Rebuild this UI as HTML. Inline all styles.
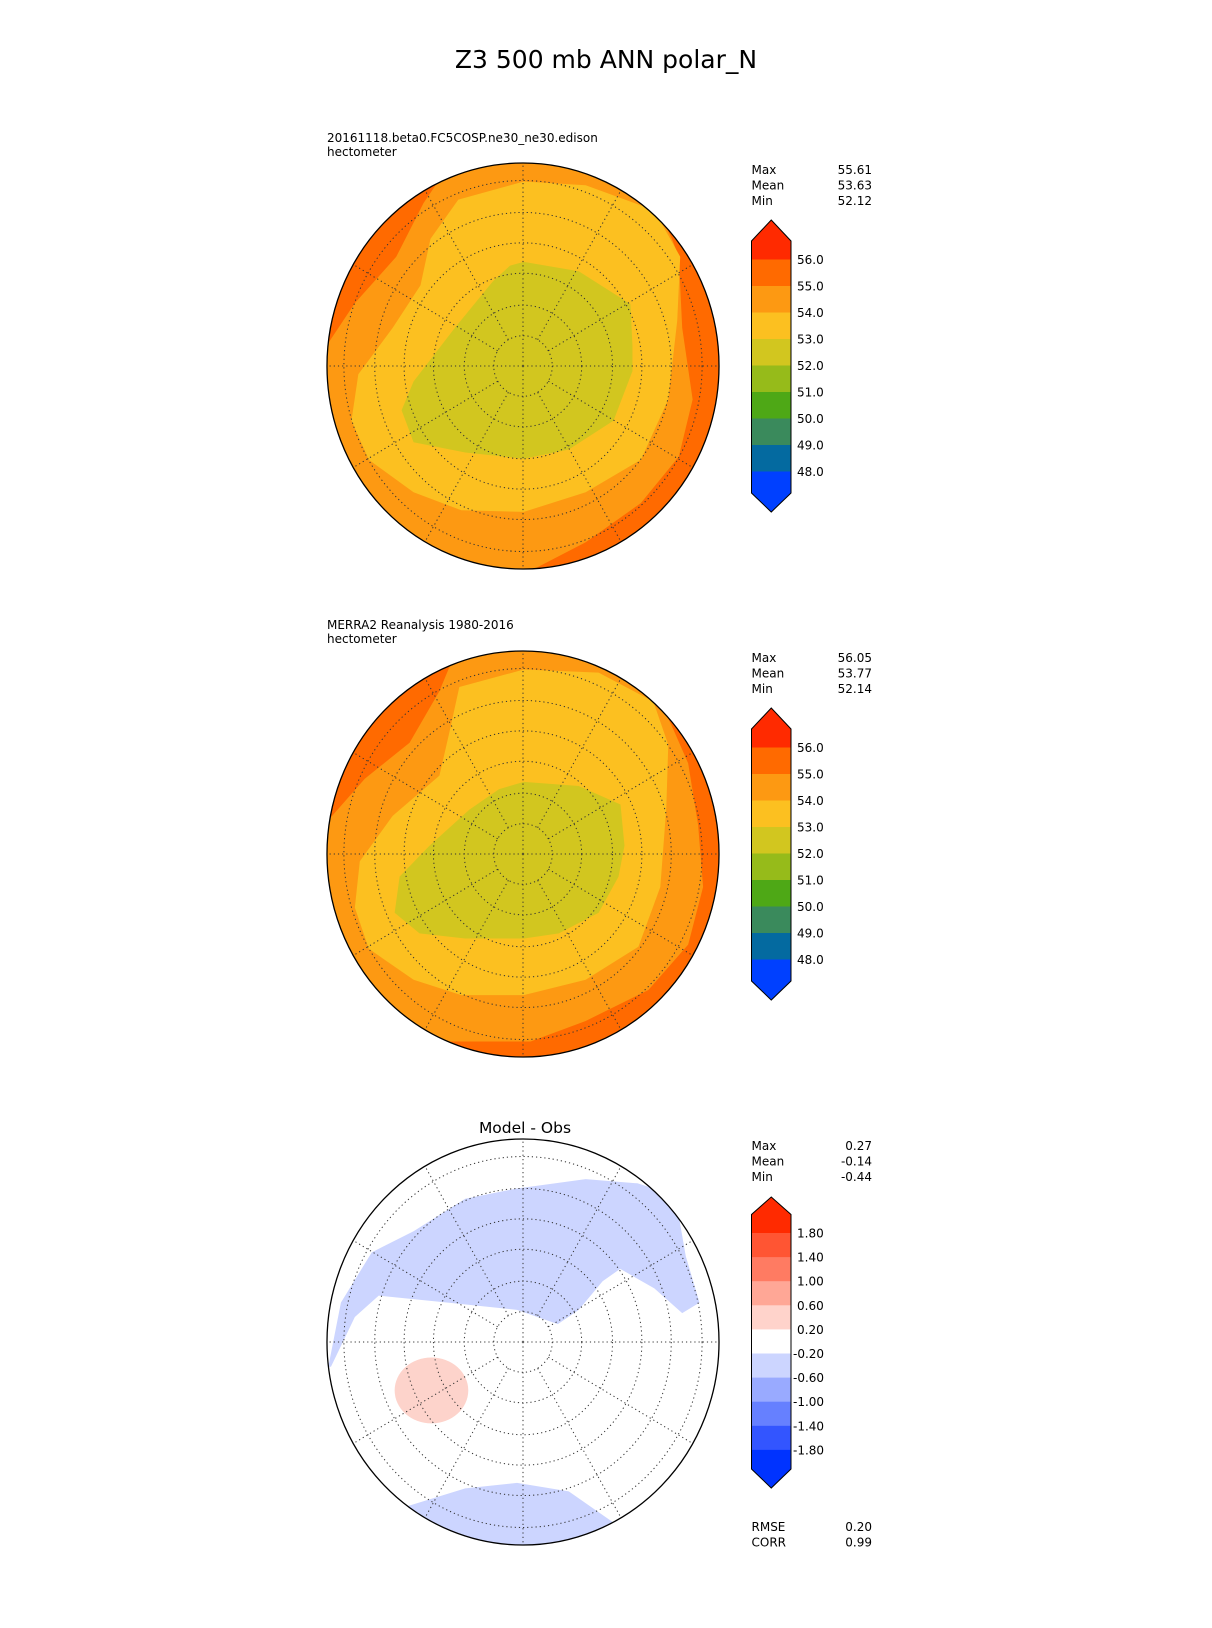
<!DOCTYPE html>
<html><head><meta charset="utf-8"><style>
body{margin:0;background:#fff;}
svg{display:block;font-family:"DejaVu Sans","Liberation Sans",sans-serif;}
</style></head><body>
<svg id="fig" width="1212" height="1628" viewBox="0 0 1212 1628">
<defs>
<clipPath id="c1"><circle cx="524" cy="360" r="197"/></clipPath>
<clipPath id="c2"><circle cx="524" cy="848" r="197"/></clipPath>
<clipPath id="c3"><circle cx="524" cy="1336" r="197"/></clipPath>
</defs>
<text x="606" y="68" font-size="25" text-anchor="middle">Z3 500 mb ANN polar_N</text>

<!-- Panel 1 -->
<g>
<text x="327" y="142" font-size="12">20161118.beta0.FC5COSP.ne30_ne30.edison</text>
<text x="327" y="156" font-size="12">hectometer</text>
<g transform="translate(523,366) scale(0.995,1.0305) translate(-524,-360)">
<g clip-path="url(#c1)">
<rect x="320" y="150" width="410" height="420" fill="#ff6a00"/>
<polygon fill="#fd9912" points="292.7,392.5 324,344 355,299 396.6,254 424,202 448.5,167 518,132.7 621.7,132.7 673.7,236.6 680.6,254 684,323 694.5,392.5 680.6,448 642.5,493 587,531 531.7,558.7 448.5,555 400,545 292.7,496"/>
<polygon fill="#fcc020" points="459,198.5 524.8,181 587,184.6 656,209 682,254 679,316 670,392.5 642.5,451 587,482.5 524.8,501.6 462,500 414,482.5 369,451 351.6,413 358.5,368 393,323 421,281.6 431,236.6"/>
<polygon fill="#d2c61f" points="524.8,259 580,268 632,300 634,340 634,365 615,413 570,441 525,450 466,444 414,434 402,403 414,375 455.5,323 493.6,278 511,262.6"/>
<g class="grid" data-cx="524" data-cy="360"></g>
</g>
<circle cx="524" cy="360" r="197" fill="none" stroke="#000" stroke-width="1.3" vector-effect="non-scaling-stroke"/>
</g>
</g>

<!-- Panel 2 -->
<g>
<text x="327" y="629" font-size="12">MERRA2 Reanalysis 1980-2016</text>
<text x="327" y="643" font-size="12">hectometer</text>
<g transform="translate(523,854) scale(0.995,1.0305) translate(-524,-848)">
<g clip-path="url(#c2)">
<rect x="320" y="640" width="410" height="420" fill="#ff6a00"/>
<polygon fill="#fd9912" points="292.7,870 324,820 365,775 410,740 440,690 455,655 518,620 621.7,620 673.7,724 690,760 700,820 705,880 690,936 650,980 587,1010 531.7,1030 448.5,1030 400,1025 292.7,990"/>
<polygon fill="#fcc020" points="460,686 524.8,669 600,672 655,700 670,742 668,804 662,880 640,938 587,970 524.8,985 462,985 414,970 369,940 355,900 360,855 393,811 440,772 450,730"/>
<polygon fill="#d2c61f" points="524.8,778 580,782 622,800 626,840 620,870 600,905 560,925 525,930 466,930 420,925 395,905 400,870 430,840 470,805 500,785"/>
<g class="grid" data-cx="524" data-cy="848"></g>
</g>
<circle cx="524" cy="848" r="197" fill="none" stroke="#000" stroke-width="1.3" vector-effect="non-scaling-stroke"/>
</g>
</g>

<!-- Panel 3 -->
<g>
<text x="525" y="1133" font-size="15.5" text-anchor="middle">Model - Obs</text>
<g transform="translate(523,1342) scale(0.995,1.0305) translate(-524,-1336)">
<g clip-path="url(#c3)">
<rect x="320" y="1130" width="410" height="420" fill="#fff"/>
<polygon fill="#ccd5ff" points="329,1356.7 341,1297.8 372,1249 414,1228.5 466,1197 518,1187 587,1178 639,1182 677,1194 687.6,1252.8 701.4,1297.8 684,1308 656,1284 621.7,1265 604,1277 580,1304.8 559,1318.6 518,1304.8 448.5,1297.8 379,1291 355,1311.7 331,1360 300,1360 300,1290"/>
<polygon fill="#ccd5ff" points="396.6,1498.7 466,1478 518,1472.7 570,1481 622,1516 640,1560 390,1560"/>
<ellipse cx="432" cy="1383" rx="37" ry="32" fill="#fdd3cb"/>
<g class="grid" data-cx="524" data-cy="1336"></g>
</g>
<circle cx="524" cy="1336" r="197" fill="none" stroke="#000" stroke-width="1.3" vector-effect="non-scaling-stroke"/>
</g>
</g>

<g id="cbars"></g>
<g id="stats"></g>
</svg>
<script>
const NS='http://www.w3.org/2000/svg';
const svg=document.getElementById('fig');
function mk(tag,attrs,parent){const e=document.createElementNS(NS,tag);for(const k in attrs)e.setAttribute(k,attrs[k]);parent.appendChild(e);return e;}

// grid rings and meridians
const ringRadii=[29.4,59,90,119.5,149,180];
const meridianDeg=[0,30,60,90,120,150,180,210,240,270,300,330];
document.querySelectorAll('.grid').forEach(g=>{
  const cx=+g.dataset.cx, cy=+g.dataset.cy;
  ringRadii.forEach(r=>{const c=mk('circle',{cx:cx,cy:cy,r:r,fill:'none',stroke:'#333','stroke-width':1,'stroke-dasharray':'1.2,3'},g);
  
  });
  meridianDeg.forEach(d=>{const a=d*Math.PI/180;const r0=(d%90===0)?0:29.4;const r1=200;
   const l=mk('line',{x1:cx+r0*Math.cos(a),y1:cy+r0*Math.sin(a),x2:cx+r1*Math.cos(a),y2:cy+r1*Math.sin(a),stroke:'#333','stroke-width':1,'stroke-dasharray':'1.2,3'},g);
   
   });
});

// colorbars
const cb1Levels=[56,55,54,53,52,51,50,49,48];
const cb1Labels=['56.0','55.0','54.0','53.0','52.0','51.0','50.0','49.0','48.0'];
const cb1Colors=['#ff2a00','#ff6a00','#fd9912','#fcc020','#d2c61f','#96bb1a','#4ea816','#3a8a5c','#046aa0','#0040ff'];
const cb3Levels=[1.8,1.4,1.0,0.6,0.2,-0.2,-0.6,-1.0,-1.4,-1.8];
const cb3Labels=['1.80','1.40','1.00','0.60','0.20','-0.20','-0.60','-1.00','-1.40','-1.80'];
const cb3Colors=['#ff2a00','#ff5533','#ff7b62','#ffa796','#ffd3cb','#ffffff','#ccd5ff','#99aaff','#6680ff','#3355ff','#0033ff'];

function colorbar(name,levels,labels,colors,yTop,step,tipTop,rectTop,rectBot,tipBot){
  const g=mk('g',{},document.getElementById('cbars'));
  
  
  const x0=751.5,x1=791,xm=771.25;
  const vmax=levels[0],vmin=levels[levels.length-1],n=levels.length-1;
  const ys=v=>yTop+(vmax-v)/(vmax-vmin)*n*step;
  const bs=levels.map(ys);
  mk('polygon',{points:`${xm},${tipTop} ${x1},${rectTop} ${x1},${bs[0]} ${x0},${bs[0]} ${x0},${rectTop}`,fill:colors[0]},g);
  for(let i=0;i<bs.length-1;i++){
    const r=mk('rect',{x:x0,y:bs[i],width:x1-x0,height:bs[i+1]-bs[i]+0.5,fill:colors[i+1]},g);
    
    
  }
  const lb=bs[bs.length-1];
  mk('polygon',{points:`${x0},${lb} ${x1},${lb} ${x1},${rectBot} ${xm},${tipBot} ${x0},${rectBot}`,fill:colors[colors.length-1]},g);
  mk('polygon',{points:`${xm},${tipTop} ${x1},${rectTop} ${x1},${rectBot} ${xm},${tipBot} ${x0},${rectBot} ${x0},${rectTop}`,fill:'none',stroke:'#000','stroke-width':1},g);
  levels.forEach((v,i)=>{
    const neg=labels[i][0]==='-';
    const t=mk('text',{x:neg?793:797,y:ys(v)+4.5,'font-size':12},g);
    t.textContent=labels[i];
    
    
  });
}
colorbar('model-colorbar',cb1Levels,cb1Labels,cb1Colors,259.5,26.5,220,241,493,512);
colorbar('obs-colorbar',cb1Levels,cb1Labels,cb1Colors,747.5,26.5,708,729,981,1000);
colorbar('diff-colorbar',cb3Levels,cb3Labels,cb3Colors,1233,24.1,1197,1214.5,1469,1488);

// stats
const statNames=['Max','Mean','Min'];
const stats1=['55.61','53.63','52.12'];
const stats2=['56.05','53.77','52.14'];
const stats3=['0.27','-0.14','-0.44'];
const diffNames=['RMSE','CORR'];
const diffVals=['0.20','0.99'];
function statBlock(name,labels,vals,y0){
  const g=mk('g',{},document.getElementById('stats'));
  
  
  labels.forEach((l,i)=>{
    const a=mk('text',{x:751.5,y:y0+i*15.6,'font-size':12},g);a.textContent=l;
    
    
    const b=mk('text',{x:872,y:y0+i*15.6,'font-size':12,'text-anchor':'end'},g);b.textContent=vals[i];
    
    
  });
}
statBlock('model-stats',statNames,stats1,174);
statBlock('obs-stats',statNames,stats2,662);
statBlock('diff-stats',statNames,stats3,1150);
statBlock('rmse-corr',diffNames,diffVals,1531);
</script>
</body></html>
